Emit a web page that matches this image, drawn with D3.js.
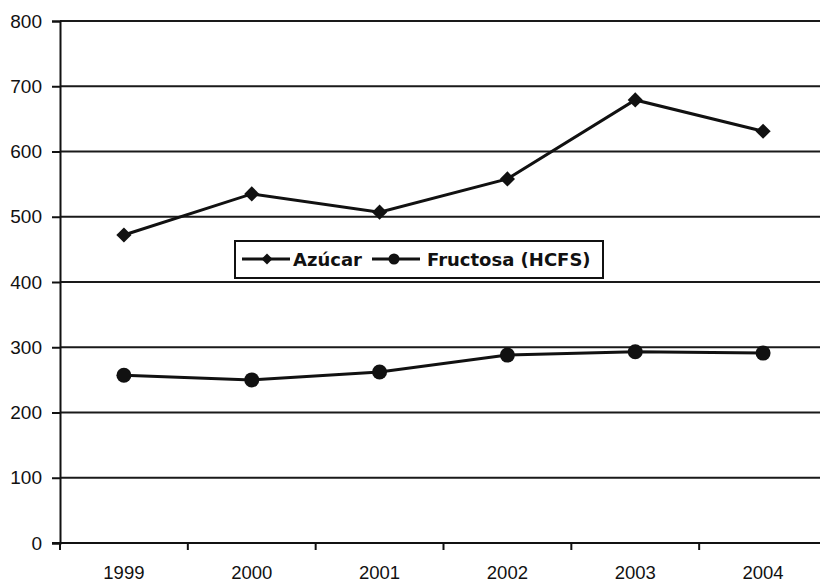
<!DOCTYPE html>
<html>
<head>
<meta charset="utf-8">
<script src="https://cdn.jsdelivr.net/npm/d3@7"></script>
<style>
  body { margin: 0; background: #fff; }
  svg text { font-family: "Liberation Sans", Arial, sans-serif; fill: #111; }
  .legend text { font-family: "DejaVu Sans", Verdana, sans-serif; font-weight: bold; }
</style>
</head>
<body>
<div id="chart"></div>
<script>
// data
var years = ['1999', '2000', '2001', '2002', '2003', '2004'];
var azucar = [472, 535, 507, 558, 679, 631];
var fructosa = [257, 250, 262, 288, 293, 291];
var yTicks = [0, 100, 200, 300, 400, 500, 600, 700, 800];

(function() {
  var width = 820, height = 581;
  var mLeft = 60, mTop = 21, mRight = 827, mBottom = 543;

  var svg = d3.select('#chart')
              .append('svg')
              .attr('width', width)
              .attr('height', height);

  var x = d3.scaleBand().domain(years).range([mLeft, mRight]);
  var y = d3.scaleLinear().domain([0, 800]).range([mBottom, mTop]);

  // gridlines
  svg.append('g')
     .selectAll('line')
     .data(yTicks.slice(1))
     .enter().append('line')
     .attr('x1', mLeft).attr('x2', width)
     .attr('y1', function(d) { return y(d); })
     .attr('y2', function(d) { return y(d); })
     .attr('stroke', '#1a1a1a')
     .attr('stroke-width', 2);

  // y axis
  var yAxis = svg.append('g')
     .attr('transform', 'translate(' + mLeft + ',0)')
     .call(d3.axisLeft(y).tickValues(yTicks).tickSize(8).tickPadding(10));
  yAxis.select('.domain').attr('stroke', '#111').attr('stroke-width', 2);
  yAxis.selectAll('.tick line').attr('stroke', '#111').attr('stroke-width', 2);
  yAxis.selectAll('text')
     .attr('font-size', 19)
     .attr('fill', '#111')
     .style('font-family', '"Liberation Sans", Arial, sans-serif');

  // x axis, ticks between categories
  var xAxis = svg.append('g')
     .attr('transform', 'translate(0,' + mBottom + ')');
  xAxis.append('line')
     .attr('x1', mLeft - 8).attr('x2', width)
     .attr('stroke', '#111').attr('stroke-width', 2);
  xAxis.selectAll('.tk')
     .data(years)
     .enter().append('line')
     .attr('class', 'tk')
     .attr('x1', function(d) { return x(d); })
     .attr('x2', function(d) { return x(d); })
     .attr('y1', 0).attr('y2', 7)
     .attr('stroke', '#111').attr('stroke-width', 2);
  xAxis.selectAll('text')
     .data(years)
     .enter().append('text')
     .attr('x', function(d) { return x(d) + x.bandwidth() / 2; })
     .attr('y', 35.5)
     .attr('text-anchor', 'middle')
     .attr('font-size', 18.5)
     .text(function(d) { return d; });

  var cx = function(d, i) { return x(years[i]) + x.bandwidth() / 2; };

  var line = d3.line()
     .x(function(d, i) { return x(years[i]) + x.bandwidth() / 2; })
     .y(function(d) { return y(d); });

  // square rotated 45deg gives an even diamond
  var diamond = d3.symbol().type(d3.symbolSquare).size(115);

  // Azúcar
  svg.append('path')
     .datum(azucar)
     .attr('d', line)
     .attr('fill', 'none')
     .attr('stroke', '#111')
     .attr('stroke-width', 3);
  svg.selectAll('.dia')
     .data(azucar)
     .enter().append('path')
     .attr('class', 'dia')
     .attr('d', diamond)
     .attr('transform', function(d, i) { return 'translate(' + cx(d, i) + ',' + y(d) + ') rotate(45)'; })
     .attr('fill', '#111');

  // Fructosa (HCFS)
  svg.append('path')
     .datum(fructosa)
     .attr('d', line)
     .attr('fill', 'none')
     .attr('stroke', '#111')
     .attr('stroke-width', 3);
  svg.selectAll('.dot')
     .data(fructosa)
     .enter().append('circle')
     .attr('class', 'dot')
     .attr('cx', cx)
     .attr('cy', function(d) { return y(d); })
     .attr('r', 7.5)
     .attr('fill', '#111');

  // legend
  var legend = svg.append('g').attr('class', 'legend');
  legend.append('rect')
     .attr('x', 235).attr('y', 241)
     .attr('width', 368).attr('height', 37)
     .attr('fill', '#fff')
     .attr('stroke', '#111')
     .attr('stroke-width', 2);

  legend.append('line')
     .attr('x1', 242).attr('x2', 290).attr('y1', 259).attr('y2', 259)
     .attr('stroke', '#111').attr('stroke-width', 3);
  legend.append('path')
     .attr('d', d3.symbol().type(d3.symbolSquare).size(60))
     .attr('transform', 'translate(267,259) rotate(45)')
     .attr('fill', '#111');
  legend.append('text')
     .attr('x', 293).attr('y', 266)
     .attr('font-size', 18)
     .text('Azúcar');

  legend.append('line')
     .attr('x1', 372).attr('x2', 420).attr('y1', 259).attr('y2', 259)
     .attr('stroke', '#111').attr('stroke-width', 3);
  legend.append('circle')
     .attr('cx', 394).attr('cy', 259).attr('r', 5.5)
     .attr('fill', '#111');
  legend.append('text')
     .attr('x', 427).attr('y', 266)
     .attr('font-size', 18)
     .text('Fructosa (HCFS)');
})();
</script>
</body>
</html>
